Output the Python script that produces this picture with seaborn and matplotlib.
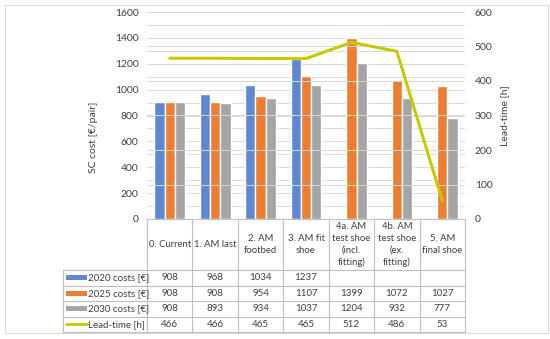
import numpy as np
import pandas as pd
import matplotlib
matplotlib.use("Agg")
import matplotlib.pyplot as plt
import matplotlib.transforms as mtransforms
from matplotlib.lines import Line2D
from matplotlib.patches import Rectangle
import seaborn as sns

# ---------------- data ----------------
categories = ["0. Current", "1. AM last", "2. AM\nfootbed", "3. AM fit\nshoe",
              "4a. AM\ntest shoe\n(incl.\nfitting)", "4b. AM\ntest shoe\n(ex.\nfitting)",
              "5. AM\nfinal shoe"]
series_names = ["2020 costs [€]", "2025 costs [€]", "2030 costs [€]"]
cost_2020 = [908, 968, 1034, 1237, np.nan, np.nan, np.nan]
cost_2025 = [908, 908, 954, 1107, 1399, 1072, 1027]
cost_2030 = [908, 893, 934, 1037, 1204, 932, 777]
lead_time = [466, 466, 465, 465, 512, 486, 53]
lead_name = "Lead-time [h]"

colors = ["#6088D2", "#ED7D31", "#A5A5A5"]
line_color = "#C8C800"
text_color = "#404040"
grid_color = "#D9D9D9"
table_line = "#BFBFBF"

sns.set_theme(style="white")
plt.rcParams["font.family"] = ["Lato", "DejaVu Sans"]

W, H = 550, 339
fig = plt.figure(figsize=(W / 100, H / 100), dpi=100)

def fx(x):
    return x / W

def fy(y):
    return 1 - y / H

left_px, right_px, top_px, bot_px = 147, 465, 12, 219
ax = fig.add_axes([fx(left_px), fy(bot_px), fx(right_px - left_px), (bot_px - top_px) / H])

df = pd.DataFrame({
    "category": np.repeat(categories, 3),
    "series": series_names * len(categories),
    "value": np.ravel(np.column_stack([cost_2020, cost_2025, cost_2030])),
})

sns.barplot(data=df, x="category", y="value", hue="series", order=categories,
            hue_order=series_names, palette=colors, width=0.68, saturation=1,
            legend=False, ax=ax, zorder=3)

ax.set_xlim(-0.5, len(categories) - 0.5)
ax.set_ylim(0, 1600)
ax.set_yticks(np.arange(0, 1601, 200))
ax.set_yticks(np.arange(100, 1600, 200), minor=True)
ax.set_xticks([])
ax.set_xlabel("")
ax.set_ylabel("SC cost [€/pair]", fontsize=7.5, color=text_color)
ax.yaxis.set_label_coords((98 - left_px) / (right_px - left_px), (bot_px - 137) / (bot_px - top_px))
ax.tick_params(axis="y", which="both", length=0, labelsize=7.5, labelcolor=text_color, pad=6)
ax.grid(axis="y", which="both", color=grid_color, linewidth=0.7, zorder=0)
for s in ax.spines.values():
    s.set_visible(False)

ax2 = ax.twinx()
sns.lineplot(x=np.arange(len(categories)), y=lead_time, ax=ax2, color=line_color,
             linewidth=2.2, zorder=5)
ax2.set_ylim(0, 600)
ax2.set_yticks(np.arange(0, 601, 100))
ax2.set_ylabel("Lead-time [h]", fontsize=7.5, color=text_color)
ax2.yaxis.set_label_coords((500 - left_px) / (right_px - left_px), 0.5)
ax2.tick_params(axis="y", length=0, labelsize=7.5, labelcolor=text_color, pad=7)
ax2.grid(axis="y", color=grid_color, linewidth=0.7, zorder=0)
ax2.set_xlim(-0.5, len(categories) - 0.5)
for s in ax2.spines.values():
    s.set_visible(False)

# ---------------- data table ----------------
bt = mtransforms.blended_transform_factory(ax.transData, fig.transFigure)
row_edges = [219, 270, 285.5, 301, 316.5, 332]
legend_left = 63
ncol = len(categories)
col_edges = np.arange(ncol + 1) - 0.5

fig.add_artist(Line2D([col_edges[0], col_edges[-1]], [fy(row_edges[0])] * 2,
                      transform=bt, color=table_line, lw=0.8))
for y in row_edges[1:]:
    fig.add_artist(Line2D([fx(legend_left), fx(right_px)], [fy(y)] * 2,
                          transform=fig.transFigure, color=table_line, lw=0.8))
for xe in col_edges:
    fig.add_artist(Line2D([xe, xe], [fy(row_edges[0]), fy(row_edges[-1])],
                          transform=bt, color=table_line, lw=0.8))
fig.add_artist(Line2D([fx(legend_left)] * 2, [fy(row_edges[1]), fy(row_edges[-1])],
                      transform=fig.transFigure, color=table_line, lw=0.8))

hy = (row_edges[0] + row_edges[1]) / 2
for i, c in enumerate(categories):
    fig.text(i, fy(hy), c, transform=bt, ha="center", va="center", fontsize=6.8,
             color=text_color, linespacing=1.4)

rows = [(series_names[0], cost_2020), (series_names[1], cost_2025),
        (series_names[2], cost_2030), (lead_name, lead_time)]
for r, (name, vals) in enumerate(rows):
    yc = fy((row_edges[r + 1] + row_edges[r + 2]) / 2)
    for i, v in enumerate(vals):
        if not np.isnan(v):
            fig.text(i, yc, f"{int(v)}", transform=bt, ha="center", va="center",
                     fontsize=7, color=text_color)
    fig.text(fx(88), yc, name, ha="left", va="center", fontsize=7, color=text_color)
    if r < 3:
        fig.add_artist(Rectangle((fx(66), yc - 2.5 / H), fx(21), 5 / H,
                                 transform=fig.transFigure, color=colors[r], lw=0))
    else:
        fig.add_artist(Line2D([fx(66), fx(87)], [yc, yc], transform=fig.transFigure,
                              color=line_color, lw=2))

fig.add_artist(Rectangle((fx(5), fy(333)), fx(543), (333 - 5) / H,
                         transform=fig.transFigure, fill=False, edgecolor=grid_color, lw=0.8))

fig.savefig("out.png", dpi=100)
